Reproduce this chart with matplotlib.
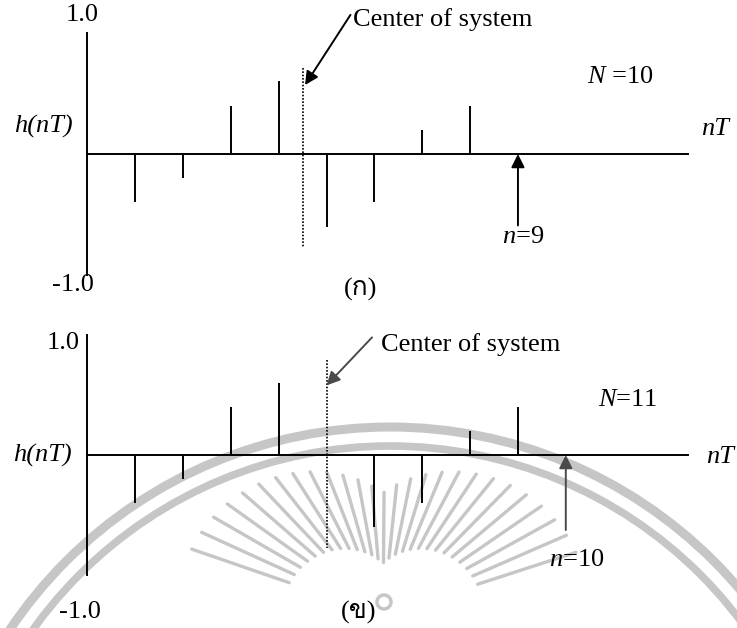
import numpy as np
import matplotlib
matplotlib.use('Agg')
import matplotlib.pyplot as plt
from matplotlib import font_manager
from matplotlib.ft2font import FT2Font
from matplotlib.patches import Circle

plt.rcParams['font.family'] = 'Liberation Serif'
plt.rcParams['mathtext.fontset'] = 'custom'
plt.rcParams['mathtext.rm'] = 'Liberation Serif'
plt.rcParams['mathtext.it'] = 'Liberation Serif:italic'


def thai_family():
    # first installed font that carries Thai glyphs
    for f in font_manager.fontManager.ttflist:
        try:
            if 0x0E01 in FT2Font(f.fname).get_charmap():
                return f.name
        except Exception:
            pass
    return 'DejaVu Sans'


THAI = ['Liberation Serif', thai_family()]

# impulse response, N = 10 (antisymmetric, centre at n = 4.5)
n_a = [1, 2, 3, 4, 5, 6, 7, 8]
h_a = [-0.4, -0.2, 0.4, 0.6, -0.6, -0.4, 0.2, 0.4]
centre_a = 4.5
last_a = 9

# impulse response, N = 11 (antisymmetric, centre at n = 5)
n_b = [1, 2, 3, 4, 6, 7, 8, 9]
h_b = [-0.4, -0.2, 0.4, 0.6, -0.6, -0.4, 0.2, 0.4]
centre_b = 5
last_b = 10

W, H = 737, 628
fig = plt.figure(figsize=(W / 100, H / 100), dpi=100)

# faint seal in the background
bg = fig.add_axes([0, 0, 1, 1])
bg.set_xlim(0, W)
bg.set_ylim(H, 0)
bg.axis('off')
seal = '#c6c6c6'
for r, lw in [(458, 6.5), (439, 5.5)]:
    bg.add_patch(Circle((390, 885), r, fill=False, ec=seal, lw=lw))
cx, cy = 383, 615
for ang in np.arange(18, 163, 5.5):
    t = np.radians(ang)
    c = abs(np.cos(t))
    r0, r1 = 52 + 50 * c, 122 + 85 * c
    bg.plot([cx + r0 * np.cos(t), cx + r1 * np.cos(t)],
            [cy - r0 * np.sin(t), cy - r1 * np.sin(t)],
            color=seal, lw=2.4, solid_capstyle='round')
bg.add_patch(Circle((384, 602), 7, fill=False, ec=seal, lw=2.5))

DX = 47.85
XL = (-87.3 / DX, (W - 87.3) / DX)


def panel(rect, ylim, n, h, centre, last, dot_span, pointer, labels):
    ax = fig.add_axes(rect)
    ax.set_zorder(1)
    ax.patch.set_alpha(0)
    ax.set_xlim(*XL)
    ax.set_ylim(*ylim)
    ax.axis('off')
    col = labels['col']
    # axes
    ax.plot([0, 0], [-1, 1], color='black', lw=1.4)
    ax.plot([0, (688 - 87.3) / DX], [0, 0], color='black', lw=1.4)
    # samples
    ax.vlines(n, 0, h, color='black', lw=1.4)
    # centre of symmetry
    ax.plot([centre, centre], dot_span, color='black', lw=1.2,
            linestyle=(0, (1, 1)))
    ax.annotate('', xy=pointer[1], xytext=pointer[0],
                arrowprops=dict(arrowstyle='-|>', color=col, lw=1.4,
                                mutation_scale=20, shrinkA=0, shrinkB=0))
    ax.text(*labels['centre'], 'Center of system', fontsize=19,
            ha='left', va='center')
    # last sample marker
    ax.annotate('', xy=(last, 0), xytext=(last, labels['arrow_lo']),
                arrowprops=dict(arrowstyle='-|>', color=col, lw=1.4,
                                mutation_scale=20, shrinkA=0, shrinkB=0))
    ax.text(*labels['n_pos'], r'$n$=%d' % last, fontsize=19,
            ha='center', va='center')
    ax.text(*labels['N_pos'], labels['N_txt'], fontsize=19,
            ha='left', va='center')
    ax.text(*labels['h_pos'], 'h(nT)', fontsize=19, style='italic',
            ha='center', va='center')
    ax.text(*labels['nT_pos'], 'nT', fontsize=19, style='italic',
            ha='center', va='center')
    ax.text(*labels['top'], '1.0', fontsize=19, ha='center', va='center')
    ax.text(*labels['bot'], '-1.0', fontsize=19, ha='center', va='center')
    ax.text(*labels['cap_pos'], labels['cap'], fontsize=19, family=THAI,
            ha='center', va='center')
    return ax


panel([0, (H - 310) / H, 1, 310 / H],
      (-(310 - 154) / 121, 154 / 121),
      n_a, h_a, centre_a, last_a, (0.71, -0.77),
      ((5.5, 1.15), (4.55, 0.57)),
      dict(col='black', centre=(5.55, 1.11), arrow_lo=-0.59,
           n_pos=(9.1, -0.69), N_pos=(10.45, 0.64), N_txt=r'$N$ =10',
           h_pos=(-0.92, 0.23), nT_pos=(13.12, 0.21),
           top=(-0.1, 1.15), bot=(-0.3, -1.08),
           cap_pos=(5.72, -1.12), cap='(ก)'))

panel([0, 0, 1, 318 / H],
      (-(628 - 455) / 120, (455 - 310) / 120),
      n_b, h_b, centre_b, last_b, (0.79, -0.775),
      ((5.95, 0.98), (5.0, 0.58)),
      dict(col='#4a4a4a', centre=(6.13, 0.92), arrow_lo=-0.625,
           n_pos=(10.23, -0.875), N_pos=(10.67, 0.46), N_txt=r'$N$=11',
           h_pos=(-0.94, 0.0), nT_pos=(13.22, -0.02),
           top=(-0.5, 0.93), bot=(-0.15, -1.31),
           cap_pos=(5.66, -1.31), cap='(ข)'))

fig.savefig('out.png', dpi=100)
